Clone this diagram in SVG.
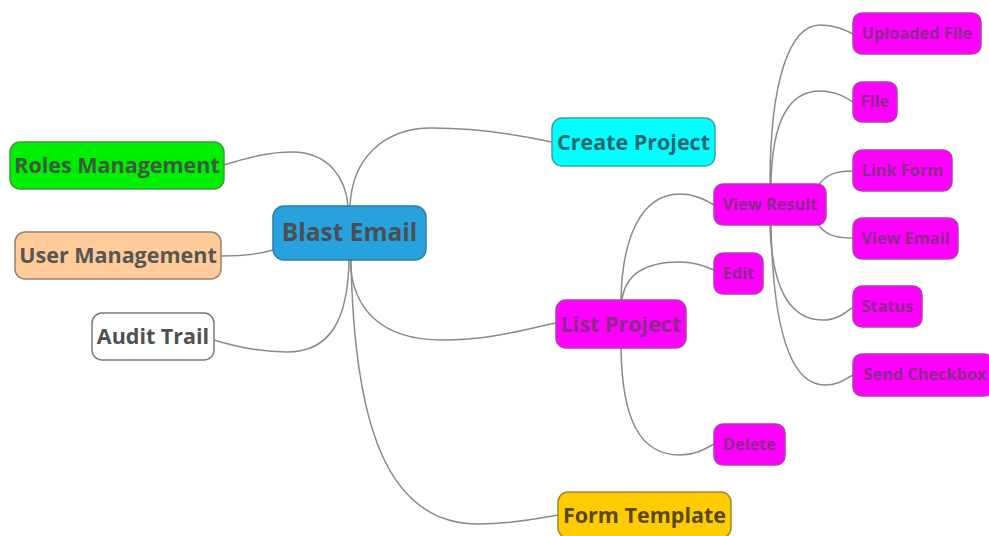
<svg xmlns="http://www.w3.org/2000/svg" width="989" height="536" viewBox="0 0 989 536">
  <style>
    .n rect { stroke-width: 1.5; }
    .n text { font-family: "Open Sans", "Noto Sans", "DejaVu Sans", sans-serif; font-weight: bold; text-anchor: middle; dominant-baseline: central; }
    .big text { font-size: 21.5px; }
    .small text { font-size: 16.3px; }
    .mag rect { fill: #ff00ff; stroke: #b23cb2; }
    .mag text { fill: #8c2a8c; }
    .links path { fill: none; stroke: #8a8a8a; stroke-width: 1.5; }
  </style>
  <rect width="989" height="536" fill="#ffffff"/>

  <!-- connectors -->
  <g class="links" id="connectors">
    <path d="M224,165 C250,157 270,152 292,152 C330,152 346,180 348,206"/>
    <path d="M350,206 C352,160 382,128 432,128 C482,128 520,135 552,142"/>
    <path d="M221,256 C245,256 260,254 273,250"/>
    <path d="M214,340 C240,348 262,352 287,352 C330,352 348,320 349,260"/>
    <path d="M350,260 C352,310 382,340 442,340 C492,340 530,328 556,323"/>
    <path d="M351,260 C354,420 385,524 478,524 C515,524 540,518 558,515"/>
    <path d="M621,300 C622,240 640,194 680,194 C695,194 705,200 714,205"/>
    <path d="M622,300 C625,276 642,262 680,262 C695,262 705,266 714,270"/>
    <path d="M621,348 C622,420 640,455 680,455 C695,455 705,449 714,444"/>
    <path d="M770,184 C770,80 790,25 820,25 C835,25 845,30 853,34"/>
    <path d="M771,184 C772,120 790,91 820,91 C835,91 845,97 853,102"/>
    <path d="M818,186 C825,175 835,171 853,171"/>
    <path d="M818,224 C825,235 835,238 853,238"/>
    <path d="M770,225 C772,290 790,320 823,320 C838,320 846,312 853,307"/>
    <path d="M771,225 C773,330 790,385 825,385 C840,385 846,378 853,375"/>
  </g>

  <!-- central topic -->
  <g id="blast-email" class="n">
    <rect x="273" y="206" width="153" height="54" rx="11" fill="#27a2dc" stroke="#2a80ad"/>
    <text x="349.5" y="231.5" fill="#4a4e55" style="font-size:24.5px">Blast Email</text>
  </g>

  <!-- left branches -->
  <g id="roles-management" class="n big">
    <rect x="10" y="142" width="214" height="47" rx="10" fill="#00ee00" stroke="#3d9a3d"/>
    <text x="117" y="164.5" fill="#3b5c3e">Roles Management</text>
  </g>
  <g id="user-management" class="n big">
    <rect x="15" y="232" width="206" height="47" rx="10" fill="#ffcc99" stroke="#9a8070"/>
    <text x="118" y="254.5" fill="#565656">User Management</text>
  </g>
  <g id="audit-trail" class="n big">
    <rect x="92" y="313" width="122" height="47" rx="10" fill="#ffffff" stroke="#7a7a7a"/>
    <text x="153" y="335.5" fill="#505050">Audit Trail</text>
  </g>

  <!-- right branches -->
  <g id="create-project" class="n big">
    <rect x="552" y="118" width="163" height="48" rx="10" fill="#00ffff" stroke="#3aa5a8"/>
    <text x="633.5" y="141" fill="#2b6670">Create Project</text>
  </g>
  <g id="list-project" class="n big mag">
    <rect x="556" y="300" width="130" height="48" rx="10"/>
    <text x="621" y="323">List Project</text>
  </g>
  <g id="form-template" class="n big">
    <rect x="558" y="492" width="173" height="46" rx="10" fill="#ffcc00" stroke="#a08a2a"/>
    <text x="644.5" y="514" fill="#5a4818">Form Template</text>
  </g>

  <!-- List Project children -->
  <g id="view-result" class="n small mag">
    <rect x="714" y="184" width="112" height="41" rx="9"/>
    <text x="770" y="203.5">View Result</text>
  </g>
  <g id="edit" class="n small mag">
    <rect x="714" y="253" width="49" height="41" rx="9"/>
    <text x="738.5" y="272.5">Edit</text>
  </g>
  <g id="delete" class="n small mag">
    <rect x="714" y="424" width="71" height="41" rx="9"/>
    <text x="749.5" y="443.5">Delete</text>
  </g>

  <!-- View Result children -->
  <g id="uploaded-file" class="n small mag">
    <rect x="853" y="13" width="128" height="41" rx="9"/>
    <text x="917" y="32.5">Uploaded File</text>
  </g>
  <g id="file" class="n small mag">
    <rect x="853" y="82" width="44" height="40" rx="9"/>
    <text x="875" y="101">File</text>
  </g>
  <g id="link-form" class="n small mag">
    <rect x="853" y="150" width="99" height="41" rx="9"/>
    <text x="902.5" y="169.5">Link Form</text>
  </g>
  <g id="view-email" class="n small mag">
    <rect x="853" y="218" width="105" height="41" rx="9"/>
    <text x="905.5" y="237.5">View Email</text>
  </g>
  <g id="status" class="n small mag">
    <rect x="853" y="286" width="69" height="41" rx="9"/>
    <text x="887.5" y="305.5">Status</text>
  </g>
  <g id="send-checkbox" class="n small mag">
    <rect x="853" y="354" width="140" height="42" rx="9"/>
    <text x="925" y="374">Send Checkbox</text>
  </g>
</svg>
